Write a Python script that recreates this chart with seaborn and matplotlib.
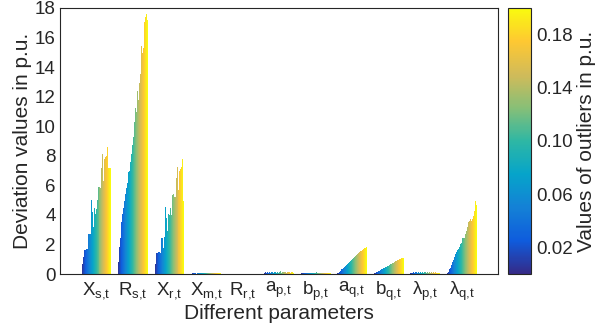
import numpy as np
import pandas as pd
import matplotlib
matplotlib.use("Agg")
import matplotlib.pyplot as plt
import seaborn as sns
from matplotlib.colors import LinearSegmentedColormap, Normalize
from matplotlib.cm import ScalarMappable

sns.set_style("white")
plt.rcParams["font.family"] = ["Liberation Sans", "DejaVu Sans"]
plt.rcParams["mathtext.fontset"] = "custom"
plt.rcParams["mathtext.rm"] = "Liberation Sans"
plt.rcParams["mathtext.it"] = "Liberation Sans"

params = [r"$\mathrm{X_{s{,}t}}$", r"$\mathrm{R_{s{,}t}}$", r"$\mathrm{X_{r{,}t}}$",
          r"$\mathrm{X_{m{,}t}}$", r"$\mathrm{R_{r{,}t}}$", r"$\mathrm{a_{p{,}t}}$",
          r"$\mathrm{b_{p{,}t}}$", r"$\mathrm{a_{q{,}t}}$", r"$\mathrm{b_{q{,}t}}$",
          r"$\mathrm{λ_{p{,}t}}$", r"$\mathrm{λ_{q{,}t}}$"]

# outlier magnitudes (p.u.), one bar each inside every group
outliers = [0.0067, 0.0133, 0.0200, 0.0267, 0.0333, 0.0400, 0.0467, 0.0533,
            0.0600, 0.0667, 0.0733, 0.0800, 0.0867, 0.0933, 0.1000, 0.1067,
            0.1133, 0.1200, 0.1267, 0.1333, 0.1400, 0.1467, 0.1533, 0.1600,
            0.1667, 0.1733, 0.1800, 0.1867, 0.1933, 0.2000]

xs_t = [0.71, 1.15, 1.6, 1.6, 1.7, 1.7, 2.7, 2.7, 2.7, 5.0,
        4.2, 3.15, 4.5, 4.05, 4.4, 5.0, 5.9, 6.0, 5.9, 5.8,
        7.2, 8.1, 6.3, 7.8, 7.9, 8.0, 8.6, 7.15, 7.15, 7.15]
rs_t = [0.82, 1.8, 2.45, 3.5, 4.04, 4.5, 4.93, 5.4, 5.8, 6.15,
        6.93, 6.97, 7.6, 8.15, 8.7, 9.27, 10.27, 11.2, 10.93, 12.4,
        11.8, 12.93, 13.55, 15.4, 14.93, 15.27, 17.05, 17.4, 17.6, 17.2]
xr_t = [0.67, 1.42, 1.4, 1.49, 1.5, 1.4, 2.44, 2.44, 1.78, 2.49,
        4.53, 3.78, 2.89, 4.04, 4.0, 4.44, 4.0, 5.38, 5.4, 5.22,
        5.2, 6.49, 7.27, 5.27, 5.71, 6.98, 7.11, 7.27, 7.78, 4.93]
xm_t = [0.03, 0.05, 0.04, 0.06, 0.05, 0.03, 0.06, 0.04, 0.05, 0.07,
        0.04, 0.06, 0.05, 0.04, 0.07, 0.05, 0.06, 0.04, 0.05, 0.06,
        0.07, 0.05, 0.04, 0.06, 0.05, 0.07, 0.06, 0.05, 0.06, 0.05]
rr_t = [0.01, 0.005, 0.01, 0.008, 0.006, 0.01, 0.007, 0.009, 0.01, 0.006,
        0.008, 0.01, 0.007, 0.009, 0.006, 0.01, 0.008, 0.007, 0.01, 0.009,
        0.006, 0.008, 0.01, 0.007, 0.009, 0.01, 0.008, 0.006, 0.01, 0.009]
ap_t = [0.08, 0.12, 0.06, 0.15, 0.1, 0.13, 0.07, 0.16, 0.11, 0.09,
        0.14, 0.12, 0.08, 0.17, 0.1, 0.13, 0.18, 0.09, 0.12, 0.15,
        0.11, 0.14, 0.1, 0.16, 0.12, 0.13, 0.09, 0.15, 0.11, 0.1]
bp_t = [0.05, 0.07, 0.04, 0.08, 0.06, 0.09, 0.05, 0.07, 0.1, 0.06,
        0.08, 0.05, 0.09, 0.07, 0.06, 0.11, 0.08, 0.06, 0.09, 0.07,
        0.1, 0.06, 0.08, 0.07, 0.09, 0.06, 0.08, 0.07, 0.09, 0.06]
aq_t = [0.04, 0.1, 0.16, 0.22, 0.31, 0.37, 0.43, 0.49, 0.56, 0.63,
        0.71, 0.77, 0.83, 0.9, 0.96, 1.02, 1.1, 1.16, 1.22, 1.28,
        1.35, 1.41, 1.47, 1.53, 1.58, 1.63, 1.68, 1.73, 1.78, 1.82]
bq_t = [0.04, 0.08, 0.12, 0.16, 0.2, 0.24, 0.27, 0.31, 0.35, 0.38,
        0.42, 0.46, 0.49, 0.53, 0.57, 0.6, 0.65, 0.7, 0.74, 0.78,
        0.82, 0.86, 0.9, 0.94, 0.97, 1.0, 1.03, 1.06, 1.08, 1.09]
lp_t = [0.06, 0.1, 0.08, 0.13, 0.07, 0.11, 0.15, 0.09, 0.12, 0.08,
        0.14, 0.1, 0.17, 0.09, 0.12, 0.11, 0.08, 0.13, 0.1, 0.15,
        0.09, 0.12, 0.08, 0.11, 0.1, 0.13, 0.07, 0.1, 0.09, 0.08]
lq_t = [0.04, 0.16, 0.31, 0.44, 0.6, 0.82, 0.98, 1.16, 1.33, 1.49,
        1.6, 1.71, 1.82, 2.0, 2.09, 2.44, 2.44, 2.44, 2.71, 2.93,
        3.2, 3.49, 3.6, 3.71, 3.56, 3.71, 3.93, 4.27, 4.93, 4.67]

groups = [xs_t, rs_t, xr_t, xm_t, rr_t, ap_t, bp_t, aq_t, bq_t, lp_t, lq_t]

rows = []
for name, vals in zip(params, groups):
    for o, v in zip(outliers, vals):
        rows.append({"param": name, "outlier": f"{o:.4f}", "value": v})
df = pd.DataFrame(rows)

parula = LinearSegmentedColormap.from_list(
    "parula", ["#352a87", "#0f5cdd", "#1481d6", "#06a4ca", "#2eb7a4",
               "#87bf77", "#d1bb59", "#fec832", "#f9fb0e"])
norm = Normalize(0, 0.2)
hue_order = [f"{o:.4f}" for o in outliers]
palette = {f"{o:.4f}": parula(norm(o)) for o in outliers}

fig = plt.figure(figsize=(6.03, 3.29), dpi=100)
ax = fig.add_axes([0.0995, 0.167, 0.7265, 0.809])
cax = fig.add_axes([0.8425, 0.167, 0.038, 0.809])

sns.barplot(data=df, x="param", y="value", hue="outlier", hue_order=hue_order,
            order=params, palette=palette, saturation=1, errorbar=None,
            width=0.82, linewidth=0, legend=False, ax=ax)

ax.set_xlim(-1, 11)
ax.set_ylim(0, 18)
ax.set_yticks(range(0, 19, 2))
ax.set_xlabel("Different parameters", fontsize=15, labelpad=1)
ax.set_ylabel("Deviation values in p.u.", fontsize=15, labelpad=2)
ax.tick_params(direction="in", length=3.5, width=0.8, color="#555555",
               labelsize=13.5, pad=3)
ax.tick_params(axis="x", pad=4)
for s in ax.spines.values():
    s.set_color("#262626")
    s.set_linewidth(0.8)

cb = fig.colorbar(ScalarMappable(norm=norm, cmap=parula), cax=cax)
cb.set_ticks([0.02, 0.06, 0.10, 0.14, 0.18])
cb.set_ticklabels(["0.02", "0.06", "0.10", "0.14", "0.18"])
cb.ax.set_yticks([0.04, 0.08, 0.12, 0.16], minor=True)
cb.ax.tick_params(which="both", direction="in", length=3, width=0.8,
                  labelsize=13.5, color="#262626")
cb.outline.set_edgecolor("#262626")
cb.outline.set_linewidth(0.8)
cb.set_label("Values of outliers in p.u.", fontsize=15, labelpad=3)

fig.savefig("out.png", dpi=100)
